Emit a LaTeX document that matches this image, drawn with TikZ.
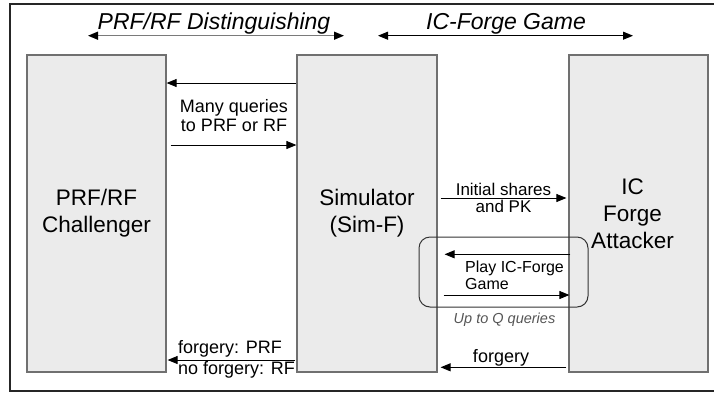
\documentclass[tikz,border=0pt]{standalone}
\usepackage{fontspec}
\setmainfont{Liberation Sans}
\usetikzlibrary{arrows.meta,shadows}

\definecolor{boxfill}{HTML}{EBEBEB}
\definecolor{boxline}{HTML}{707070}
\definecolor{shadowline}{HTML}{5A5A5A}
\definecolor{notegray}{HTML}{555555}
\definecolor{spanline}{HTML}{7A7A7A}

\begin{document}
\begin{tikzpicture}[x=1pt,y=-1pt,
  party/.style={draw=boxline, line width=1.2pt, fill=boxfill,
    minimum height=317pt, inner sep=0pt, align=center,
    font=\fontsize{22.5}{27}\selectfont,
    drop shadow={shadow xshift=1.3pt, shadow yshift=-1.3pt, fill=shadowline, opacity=1}},
  partytext/.style={inner sep=0pt, align=center, font=\fontsize{22.5}{27}\selectfont},
  msg/.style={draw=black, line width=0.9pt, -{Triangle[length=10pt,width=8pt]}},
  span/.style={draw=spanline, line width=1.3pt,
    {Triangle[length=10pt,width=8pt,color=black,fill=black]}-{Triangle[length=10pt,width=8pt,color=black,fill=black]}},
  lbl/.style={inner sep=0pt, anchor=base, font=\fontsize{18}{19}\selectfont},
  lblw/.style={lbl, anchor=base west},
  heading/.style={inner sep=0pt, anchor=base, font=\itshape\fontsize{23}{26}\selectfont},
]
\useasboundingbox (0,0) rectangle (714,392);

% outer frame (open on the right)
\draw[black!85, line width=1.2pt] (714,4) -- (10,4) -- (10,391) -- (714,391);

% the three parties
\node[party, minimum width=139pt] (chal) at (96.5,213.5) {PRF/RF\\Challenger};
\node[party, minimum width=140pt] (sim)  at (367,213.5)  {Simulator\\(Sim-F)};
\node[party, minimum width=139pt] (att)  at (638.5,213.5) {};
\node[partytext] (attlbl) at ([xshift=-6pt]att.center) {IC\\Forge\\Attacker};

% headings with their span arrows
\node[heading] (h1) at (214,29) {PRF/RF Distinguishing};
\node[heading] (h2) at (506,29) {IC-Forge Game};
\coordinate (h1a) at (88,35.7);  \coordinate (h1b) at (344,35.7);
\coordinate (h2a) at (378,35.7); \coordinate (h2b) at (633,35.7);
\draw[span] (h1a) -- (h1b);
\draw[span, draw=black, line width=1pt] (h2a) -- (h2b);

% message levels
\coordinate (y1) at (0,83);
\coordinate (y2) at (0,145);
\coordinate (y3) at (0,198);
\coordinate (y4) at (0,254.3);
\coordinate (y5) at (0,295);
\coordinate (y6) at (0,360);
\coordinate (y7) at (0,367.3);

% challenger <-> simulator
\draw[msg] (sim.west |- y1) -- (chal.east |- y1);
\draw[msg] ([xshift=4pt]chal.east |- y2) -- (sim.west |- y2);
\node[lbl] (q1) at (234,112.7) {Many queries};
\node[lbl] (q2) at (234,131.7) {to PRF or RF};

% simulator -> attacker setup
\draw[msg] ([xshift=3pt]sim.east |- y3) -- ([xshift=-2pt]att.west |- y3);
\node[lbl, font=\fontsize{17}{18}\selectfont] (i1) at (503.5,195) {Initial shares};
\node[lbl, font=\fontsize{17}{18}\selectfont] (i2) at (503.5,212.7) {and PK};

% repeated game
\node[draw=black!80, line width=1pt, rounded corners=11pt, minimum width=169pt,
      minimum height=70pt, inner sep=0pt] (loop) at (503.5,272) {};
\draw[msg] ([xshift=2pt]att.west |- y4) -- ([xshift=7pt]sim.east |- y4);
\draw[msg] ([xshift=6pt]sim.east |- y5) -- ([xshift=1pt]att.west |- y5);
\node[lblw, font=\fontsize{16}{18}\selectfont] (p1) at (465,272.7) {Play IC-Forge};
\node[lblw, font=\fontsize{16}{18}\selectfont] (p2) at (465,289.3) {Game};
\node[lbl, font=\itshape\fontsize{14.5}{16}\selectfont, text=notegray] (up) at (504.5,323) {Up to Q queries};

% outcomes
\draw[msg] ([xshift=-1pt]sim.west |- y6) -- ([xshift=1pt]chal.east |- y6);
\node[lblw] (f1) at (178,353.3) {forgery: PRF};
\node[lblw] (f2) at (178,374.3) {no forgery: RF};
\draw[msg] ([xshift=-2pt]att.west |- y7) -- ([xshift=3pt]sim.east |- y7);
\node[lbl] (fg) at (501,362.7) {forgery};
\end{tikzpicture}
\end{document}
